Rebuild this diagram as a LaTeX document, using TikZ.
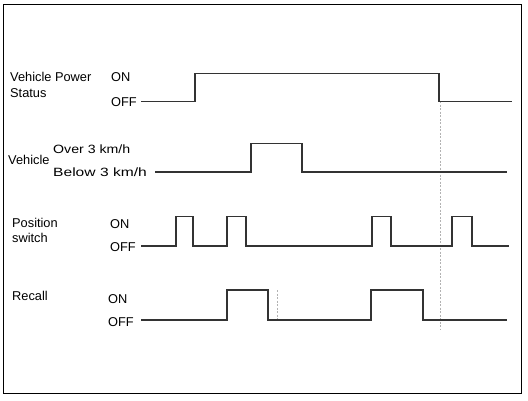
\documentclass[tikz,border=0pt]{standalone}
\usepackage{fontspec}
\setmainfont{Liberation Sans}
\begin{document}
\begin{tikzpicture}[x=1pt,y=-1pt,
  lbl/.style={anchor=base west,inner sep=0pt,font=\fontsize{12.8}{14}\selectfont},
  small/.style={anchor=base west,inner sep=0pt,font=\fontsize{12}{14}\selectfont},
  sig/.style={draw=black!80,line width=1.4pt,line join=miter},
  guide/.style={draw=black!30,line width=0.7pt,dash pattern=on 2pt off 1.5pt}]
\useasboundingbox (0,0) rectangle (528,400);
\draw[line width=1.8pt] (3.5,4.5) rectangle (521.5,393.5);
% labels
\node[lbl] (vp1) at (10,81) {Vehicle Power};
\node[lbl] (vp2) at (10,97) {Status};
\node[lbl] (vpon) at (111,81) {ON};
\node[lbl] (vpoff) at (111,106) {OFF};
\node[lbl] (veh) at (8,164) {Vehicle};
\node[small] (over) at (53,153) {\scalebox{1.18}[1]{Over 3 km/h}};
\node[small] (below) at (53,176) {\scalebox{1.3}[1]{Below 3 km/h}};
\node[lbl] (ps1) at (12,227) {Position};
\node[lbl] (ps2) at (12,242) {switch};
\node[lbl] (pson) at (110,228) {ON};
\node[lbl] (psoff) at (110,251) {OFF};
\node[lbl] (rc) at (12,300) {Recall};
\node[lbl] (rcon) at (108,303) {ON};
\node[lbl] (rcoff) at (108,326) {OFF};
% guides
\draw[guide] (440,101) -- (440,330);
\draw[guide] (277,290) -- (277,320);
% signals
\draw[sig] (141,101.5) -- (195,101.5) -- (195,73.5) -- (439,73.5) -- (439,101.5) -- (512,101.5);
\draw[sig] (155,172) -- (251,172) -- (251,143.5) -- (302,143.5) -- (302,172) -- (507,172);
\draw[sig] (141,246) -- (176,246) -- (176,216.5) -- (193,216.5) -- (193,246) -- (227,246) -- (227,216.5) -- (246,216.5) -- (246,246)
  -- (372,246) -- (372,216.5) -- (391,216.5) -- (391,246) -- (452,246) -- (452,216.5) -- (472,216.5) -- (472,246) -- (509,246);
\draw[sig] (141,320) -- (227,320) -- (227,290) -- (268,290) -- (268,320) -- (371,320) -- (371,290) -- (423,290) -- (423,320) -- (507,320);
\end{tikzpicture}
\end{document}
